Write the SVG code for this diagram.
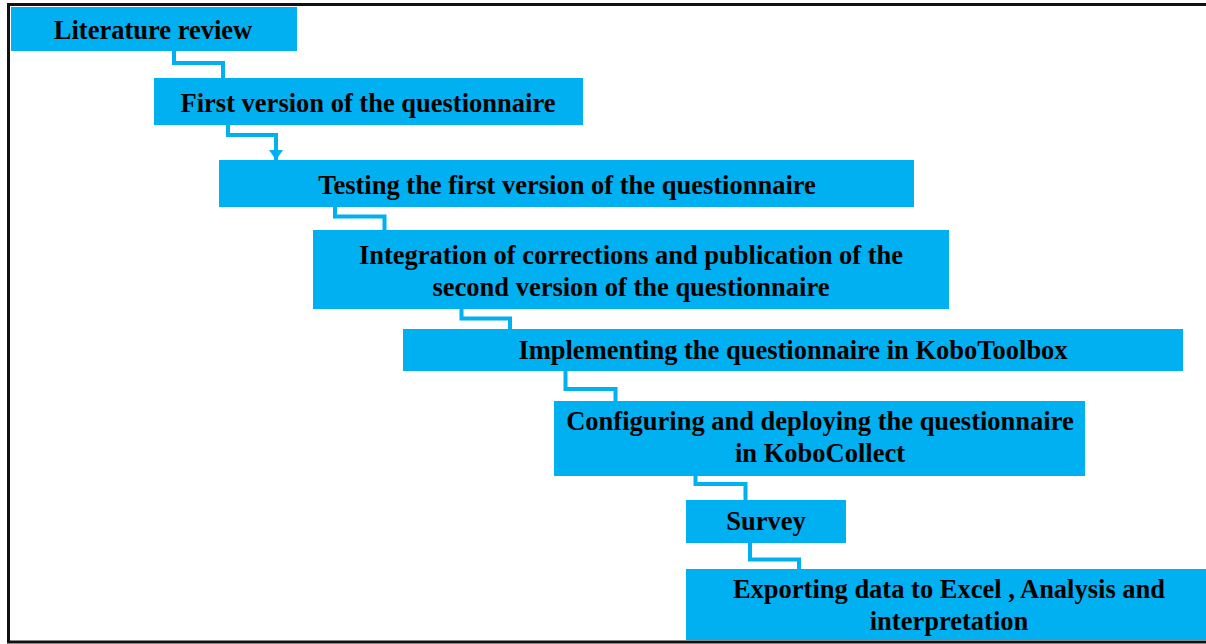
<svg xmlns="http://www.w3.org/2000/svg" width="1206" height="644" viewBox="0 0 1206 644">
  <style>
    .box { fill: #00B0F0; }
    .lbl { font-family: "Liberation Serif", "Times New Roman", serif; font-weight: bold; font-size: 26.5px; fill: #000; text-anchor: middle; }
    .link { fill: none; stroke: #00B0F0; stroke-width: 4; stroke-linejoin: miter; stroke-linecap: butt; }
  </style>
  <defs>
    <marker id="arrow" viewBox="0 0 10 14" refX="10" refY="7" markerWidth="10" markerHeight="14" markerUnits="userSpaceOnUse" orient="auto">
      <path d="M0,0 L10,7 L0,14 Z" fill="#00B0F0"/>
    </marker>
  </defs>

  <rect x="0" y="0" width="1206" height="644" fill="#fff"/>

  <!-- frame: top, left and bottom edges -->
  <path d="M1206,4.5 H8.5 V642 H1206" fill="none" stroke="#111" stroke-width="3"/>

  <g id="connectors">
    <path class="link" d="M174,51 V63 H223 V78"/>
    <path class="link" d="M228,125 V135 H276 V160" marker-end="url(#arrow)"/>
    <path class="link" d="M335,206 V216.5 H384.5 V230"/>
    <path class="link" d="M461.5,309 V318.5 H510 V329"/>
    <path class="link" d="M565.5,371 V389 H615.5 V401"/>
    <path class="link" d="M695.5,476 V484 H745.5 V500"/>
    <path class="link" d="M750,543 V559.5 H799 V569"/>
  </g>

  <g id="literature-review">
    <rect class="box" x="11" y="7" width="286" height="44"/>
    <text class="lbl" x="153" y="39">Literature review</text>
  </g>

  <g id="first-version">
    <rect class="box" x="154" y="78" width="429" height="47"/>
    <text class="lbl" x="368" y="112">First version of the questionnaire</text>
  </g>

  <g id="testing">
    <rect class="box" x="219" y="160" width="695" height="47"/>
    <text class="lbl" x="567" y="194">Testing the first version of the questionnaire</text>
  </g>

  <g id="integration">
    <rect class="box" x="313" y="230" width="636" height="79"/>
    <text class="lbl" x="631" y="264">Integration of corrections and publication of the</text>
    <text class="lbl" x="631" y="296">second version of the questionnaire</text>
  </g>

  <g id="kobotoolbox">
    <rect class="box" x="403" y="329" width="780" height="42"/>
    <text class="lbl" x="793" y="359">Implementing the questionnaire in KoboToolbox</text>
  </g>

  <g id="kobocollect">
    <rect class="box" x="554" y="401" width="531" height="75"/>
    <text class="lbl" x="820" y="430">Configuring and deploying the questionnaire</text>
    <text class="lbl" x="820" y="462">in KoboCollect</text>
  </g>

  <g id="survey">
    <rect class="box" x="686" y="500" width="160" height="43"/>
    <text class="lbl" x="766" y="530">Survey</text>
  </g>

  <g id="exporting">
    <rect class="box" x="686" y="569" width="520" height="71"/>
    <text class="lbl" x="949" y="598">Exporting data to Excel , Analysis and</text>
    <text class="lbl" x="949" y="630">interpretation</text>
  </g>
</svg>
